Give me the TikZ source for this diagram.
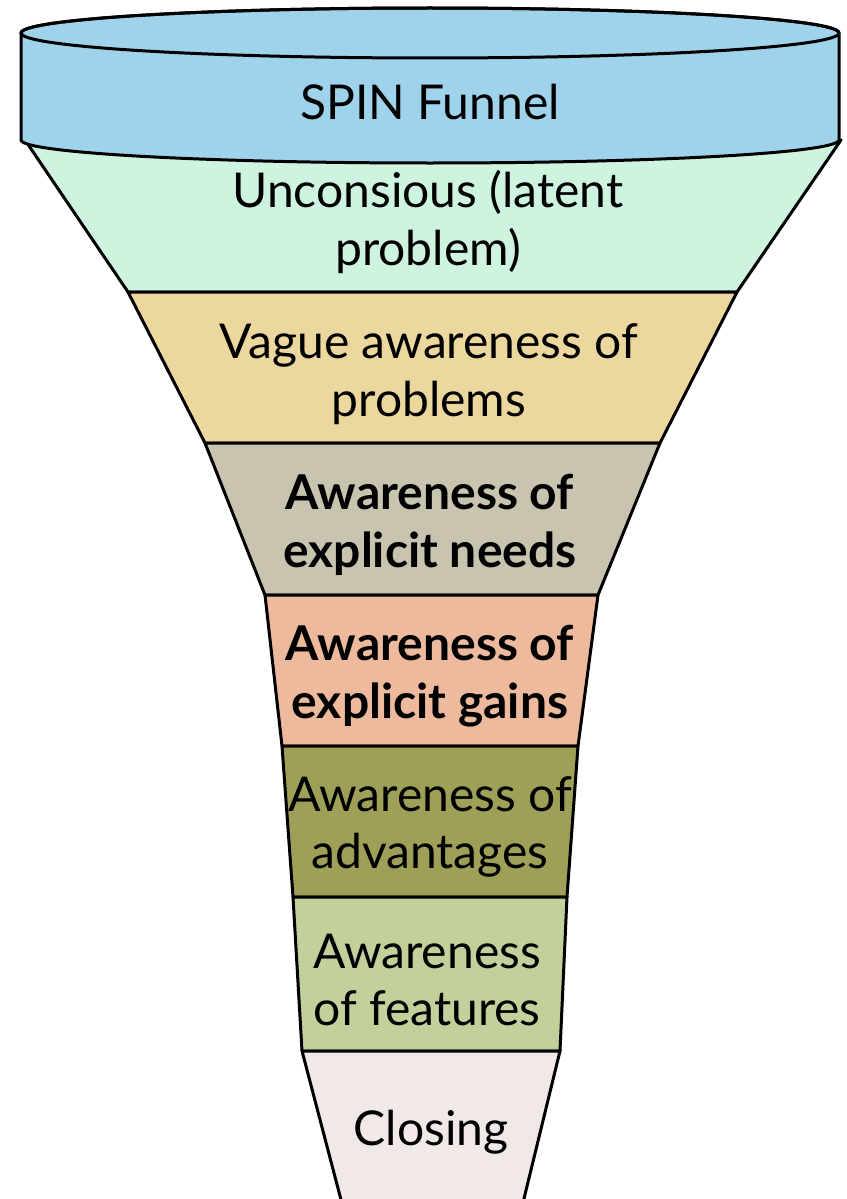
\documentclass[tikz,border=0pt]{standalone}
\usepackage{fontspec}
\setmainfont{Lato}
\begin{document}
\begin{tikzpicture}[x=1pt,y=1pt,
  seg/.style={draw=black, line width=3pt, line join=round},
  lbl/.style={align=center, font=\fontsize{48}{57.5}\selectfont, inner sep=0pt},
  blbl/.style={lbl, font=\fontsize{48}{57.5}\selectfont\bfseries}]
\definecolor{cylblue}{RGB}{158,211,235}
\definecolor{segA}{RGB}{206,244,224}
\definecolor{segB}{RGB}{236,216,158}
\definecolor{segC}{RGB}{201,196,176}
\definecolor{segD}{RGB}{237,186,157}
\definecolor{segE}{RGB}{159,160,88}
\definecolor{segF}{RGB}{194,209,155}
\definecolor{segG}{RGB}{241,233,232}
\useasboundingbox (0,0) rectangle (846,-1199);
\clip (0,0) rectangle (846,-1199);
% funnel bands, top to bottom
\filldraw[seg, fill=segA] (25,-140) -- (128,-292) -- (737,-292) -- (841,-140) -- cycle;
\filldraw[seg, fill=segB] (128,-292) -- (205,-443) -- (660,-443) -- (737,-292) -- cycle;
\filldraw[seg, fill=segC] (205,-443) -- (265,-595) -- (598,-595) -- (660,-443) -- cycle;
\filldraw[seg, fill=segD] (265,-595) -- (282,-746) -- (578,-746) -- (598,-595) -- cycle;
\filldraw[seg, fill=segE] (282,-746) -- (293,-897) -- (567,-897) -- (578,-746) -- cycle;
\filldraw[seg, fill=segF] (293,-897) -- (302,-1051) -- (560,-1051) -- (567,-897) -- cycle;
\filldraw[seg, fill=segG] (302,-1051) -- (345,-1215) -- (520,-1215) -- (560,-1051) -- cycle;
% cylinder rim
\filldraw[seg, fill=cylblue] (21,-33) -- (21,-140)
  arc[start angle=180, end angle=360, x radius=409, y radius=23]
  -- (839,-33)
  arc[start angle=0, end angle=180, x radius=409, y radius=25] -- cycle;
\draw[seg] (430,-33) ellipse [x radius=409, y radius=25];
% labels
\node[lbl] (title) at (430,-102) {SPIN Funnel};
\node[lbl] (unconscious) at (428,-222) {Unconsious (latent\\problem)};
\node[lbl] (vague) at (429,-374) {Vague awareness of\\problems};
\node[blbl] (needs) at (430,-525) {Awareness of\\explicit needs};
\node[blbl] (gains) at (430,-676) {Awareness of\\explicit gains};
\node[lbl] (advantages) at (430,-827) {Awareness of\\advantages};
\node[lbl] (features) at (427,-980) {Awareness\\of features};
\node[lbl] (closing) at (431,-1132) {Closing};
\end{tikzpicture}
\end{document}
